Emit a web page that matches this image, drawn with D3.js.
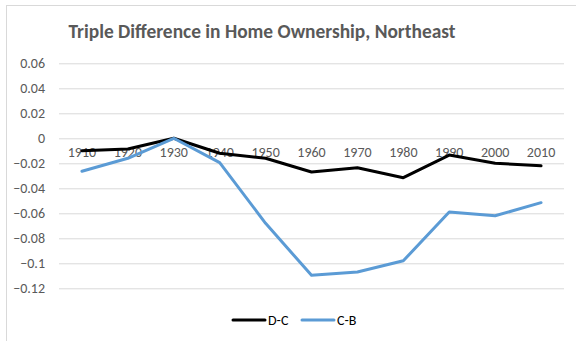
<!DOCTYPE html>
<html>
<head>
<meta charset="utf-8">
<script src="https://cdn.jsdelivr.net/npm/d3@7"></script>
<style>
  html, body { margin: 0; padding: 0; background: #fff; }
  svg { display: block; }
</style>
</head>
<body>
<svg id="chart" width="576" height="341"></svg>
<script>
// Decades on the category axis
const years = ["1910", "1920", "1930", "1940", "1950", "1960", "1970", "1980", "1990", "2000", "2010"];
// Triple difference series
const dcValues = [-0.010, -0.0086, 0.0, -0.012, -0.016, -0.027, -0.0235, -0.0315, -0.0134, -0.020, -0.022];
const cbValues = [-0.0264, -0.016, 0.0, -0.0195, -0.068, -0.1096, -0.107, -0.098, -0.059, -0.062, -0.0515];
const yTicks = [0.06, 0.04, 0.02, 0, -0.02, -0.04, -0.06, -0.08, -0.1, -0.12];
const seriesNames = ["D-C", "C-B"];
const seriesColors = ["#000000", "#5b9bd5"];

const svg = d3.select("#chart");
const W = 576, H = 341;
const plot = { left: 59, right: 564, top: 63.3, bottom: 288.3 };
const font = "Carlito, Calibri, 'Open Sans', 'Liberation Sans', sans-serif";

// Chart frame (top and left edges)
svg.append("line").attr("x1", 6).attr("x2", W).attr("y1", 5.5).attr("y2", 5.5)
  .attr("stroke", "#d9d9d9").attr("stroke-width", 1);
svg.append("line").attr("x1", 6.5).attr("x2", 6.5).attr("y1", 5).attr("y2", H)
  .attr("stroke", "#d9d9d9").attr("stroke-width", 1);

const x = d3.scaleBand().domain(years).range([plot.left, plot.right]);
const y = d3.scaleLinear().domain([-0.12, 0.06]).range([plot.bottom, plot.top]);

// Gridlines and value labels
const yAxis = d3.axisLeft(y).tickValues(yTicks).tickSize(-(plot.right - plot.left)).tickPadding(14)
  .tickFormat(d => d3.format("")(+d.toFixed(2)));
const gy = svg.append("g").attr("transform", `translate(${plot.left},0)`).call(yAxis);
gy.select(".domain").remove();
gy.selectAll(".tick line").attr("stroke", "#d9d9d9").attr("stroke-width", 1);
gy.selectAll(".tick text").attr("fill", "#595959").attr("font-size", 14).attr("font-family", font);

// Category labels sit on the zero line
const xAxis = d3.axisBottom(x).tickSize(0).tickPadding(9);
const gx = svg.append("g").attr("transform", `translate(0,${y(0)})`).call(xAxis);
gx.select(".domain").remove();
gx.selectAll(".tick text").attr("fill", "#595959").attr("font-size", 14).attr("font-family", font);

// Series lines
const line = d3.line()
  .x((d, i) => x(years[i]) + x.bandwidth() / 2)
  .y(d => y(d));
[dcValues, cbValues].forEach((vals, k) => {
  svg.append("path").datum(vals)
    .attr("d", line)
    .attr("fill", "none")
    .attr("stroke", seriesColors[k])
    .attr("stroke-width", 3)
    .attr("stroke-linejoin", "round")
    .attr("stroke-linecap", "round");
});

// Title
svg.append("text").attr("x", 262).attr("y", 38)
  .attr("text-anchor", "middle")
  .attr("fill", "#595959")
  .attr("font-size", 19.5).attr("font-weight", "bold").attr("font-family", font)
  .attr("textLength", 387).attr("lengthAdjust", "spacingAndGlyphs")
  .text("Triple Difference in Home Ownership, Northeast");

// Legend
const legendX = [233, 302];
seriesNames.forEach((name, k) => {
  const g = svg.append("g").attr("transform", `translate(${legendX[k]},320)`);
  g.append("line").attr("x1", 0).attr("x2", 32).attr("y1", 0).attr("y2", 0)
    .attr("stroke", seriesColors[k]).attr("stroke-width", 3).attr("stroke-linecap", "round");
  g.append("text").attr("x", 35).attr("y", 0).attr("dy", "0.35em")
    .attr("fill", "#000").attr("font-size", 14).attr("font-family", font)
    .text(name);
});
</script>
</body>
</html>
